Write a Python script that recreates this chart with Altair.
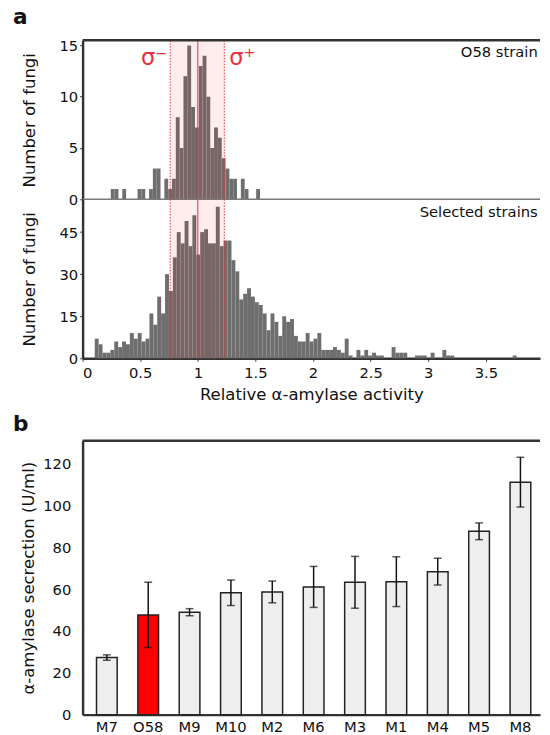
import altair as alt
import pandas as pd

# ---------------- data ----------------
O58_START = 0.2446
O58_WIDTH = 0.0332
o58_counts = [1, 1, 0, 1, 0, 0, 0, 1, 1, 0, 1, 3, 3, 0, 2, 1, 2, 8, 5, 12,
              15, 9, 7, 13, 14, 10, 5, 7, 6, 4, 3, 2, 2, 0, 2, 1, 0, 0, 1]

SEL_START = 0.1054
SEL_WIDTH = 0.0339
sel_counts = [7, 5, 2, 2, 3, 6, 4, 6, 5, 9, 7, 9, 6, 7, 16, 12, 22, 16, 30, 24,
              36, 45, 41, 49, 40, 51, 37, 45, 46, 41, 41, 54, 40, 42, 42, 35, 31, 21, 23, 25,
              22, 20, 19, 16, 10, 16, 13, 8, 15, 13, 14, 8, 6, 6, 9, 6, 7, 9, 3, 3,
              3, 4, 3, 2, 7, 1, 0, 3, 1, 3, 1, 2, 1, 1, 0, 0, 4, 2, 2, 2,
              0, 0, 1, 1, 1, 0, 2, 0, 0, 3, 1, 1, 0, 0, 0, 0, 0, 0, 0, 0,
              0, 0, 0, 0, 0, 0, 0, 1]

SIGMA_LO = 0.76
SIGMA_MID = 1.0
SIGMA_HI = 1.23

X_MAX = 3.97
O58_YMAX = 15.5
SEL_YMAX = 56.7
x_ticks = [0, 0.5, 1, 1.5, 2, 2.5, 3, 3.5]
o58_ticks = [0, 5, 10, 15]
sel_ticks = [0, 15, 30, 45]

strains = ["M7", "O58", "M9", "M10", "M2", "M6", "M3", "M1", "M4", "M5", "M8"]
secretion = [27.3, 47.7, 49.0, 58.3, 58.7, 61.1, 63.3, 63.6, 68.4, 87.7, 111.2]
errors = [1.3, 15.6, 1.7, 6.1, 5.2, 9.8, 12.4, 11.9, 6.4, 4.0, 11.9]
B_YMAX = 131
b_ticks = [0, 20, 40, 60, 80, 100, 120]

FONT = "DejaVu Sans"
GREY = "#6e6e6e"
RED = "#e3323b"
FRAME = "#333333"
PLOT_W = 466


def hist_df(start, width, counts):
    rows = []
    for i, c in enumerate(counts):
        x0 = start + i * width
        rows.append({"x0": x0, "x1": x0 + width, "count": c})
    return pd.DataFrame(rows)


o58_df = hist_df(O58_START, O58_WIDTH, o58_counts)
sel_df = hist_df(SEL_START, SEL_WIDTH, sel_counts)
band_df = pd.DataFrame({"lo": [SIGMA_LO], "hi": [SIGMA_HI]})
dotted_df = pd.DataFrame({"x": [SIGMA_LO, SIGMA_HI]})
mid_df = pd.DataFrame({"x": [SIGMA_MID]})
one_df = pd.DataFrame({"k": [0]})

xscale = alt.Scale(domain=[0, X_MAX], nice=False, zero=False)


def hist_panel(df, ymax, yticks, label, label_y, with_xaxis, with_sigma, title=None):
    yscale = alt.Scale(domain=[0, ymax], nice=False)
    yaxis = alt.Axis(values=yticks, title="Number of fungi", grid=False,
                     tickSize=3, labelPadding=2, titlePadding=21)
    if with_xaxis:
        xaxis = alt.Axis(values=x_ticks, format="~g", title="Relative α-amylase activity",
                         grid=False, tickSize=3, labelPadding=5, titlePadding=6)
    else:
        xaxis = None
    bars = alt.Chart(df).mark_rect(color=GREY, strokeWidth=0).encode(
        x=alt.X("x0:Q", scale=xscale, axis=xaxis),
        x2="x1:Q",
        y=alt.Y("count:Q", scale=yscale, axis=yaxis),
        y2=alt.datum(0),
    )
    band = alt.Chart(band_df).mark_rect(color="#ff0000", opacity=0.07).encode(
        x="lo:Q", x2="hi:Q", y=alt.datum(0), y2=alt.datum(ymax)
    )
    dotted = alt.Chart(dotted_df).mark_rule(color=RED, strokeWidth=1, strokeDash=[1.5, 1.5]).encode(
        x="x:Q"
    )
    mid = alt.Chart(mid_df).mark_rule(color=RED, strokeWidth=1).encode(x="x:Q")
    layers = [bars, band, dotted, mid]
    txt = alt.Chart(pd.DataFrame({"x": [X_MAX - 0.02], "y": [label_y], "t": [label]})).mark_text(
        align="right", baseline="middle", font=FONT, fontSize=15, color="#111111"
    ).encode(x="x:Q", y="y:Q", text="t:N")
    layers.append(txt)
    if with_sigma:
        sig_df = pd.DataFrame({"x": [SIGMA_LO, SIGMA_HI], "t": ["σ⁻", "σ⁺"],
                               "y": [13.1, 13.1], "side": ["l", "r"]})
        sig_l = alt.Chart(sig_df[sig_df.side == "l"]).mark_text(
            align="right", baseline="alphabetic", font=FONT, fontSize=23, color=RED, dx=-3
        ).encode(x="x:Q", y="y:Q", text="t:N")
        sig_r = alt.Chart(sig_df[sig_df.side == "r"]).mark_text(
            align="left", baseline="alphabetic", font=FONT, fontSize=23, color=RED, dx=5
        ).encode(x="x:Q", y="y:Q", text="t:N")
        top = alt.Chart(one_df).mark_rule(color=FRAME, strokeWidth=2.5).encode(y=alt.datum(ymax))
        sep = alt.Chart(one_df).mark_rule(color="#7a7a7a", strokeWidth=1.5).encode(y=alt.datum(0))
        layers += [sig_l, sig_r, top, sep]
    ch = alt.layer(*layers).properties(width=PLOT_W, height=162)
    if title is not None:
        ch = ch.properties(title=title)
    return ch


title_a = alt.TitleParams("a", anchor="start", frame="group", dx=-71, fontSize=22,
                          fontWeight="bold", font=FONT, color="#111111", offset=10)
title_b = alt.TitleParams("b", anchor="start", frame="group", dx=-71, fontSize=22,
                          fontWeight="bold", font=FONT, color="#111111", offset=4)

o58 = hist_panel(o58_df, O58_YMAX, o58_ticks, "O58 strain", 14.3, False, True, title_a)
sel = hist_panel(sel_df, SEL_YMAX, sel_ticks, "Selected strains", 52.0, True, False)

panel_a = alt.vconcat(o58, sel, spacing=0, bounds="flush")

# ---------------- panel b ----------------
b_df = pd.DataFrame({
    "strain": strains,
    "value": secretion,
    "lo": [v - e for v, e in zip(secretion, errors)],
    "hi": [v + e for v, e in zip(secretion, errors)],
    "kind": ["red" if s == "O58" else "hatch" for s in strains],
})

bx = alt.X("strain:N", sort=strains,
           scale=alt.Scale(paddingInner=0.5, paddingOuter=0.28, align=0.6),
           axis=alt.Axis(title=None, labelAngle=0, ticks=False, labelPadding=5, grid=False))
bars_b = alt.Chart(b_df).mark_bar(stroke="#222222", strokeWidth=1.5).encode(
    x=bx,
    y=alt.Y("value:Q", scale=alt.Scale(domain=[0, B_YMAX], nice=False),
            axis=alt.Axis(values=b_ticks, title="α-amylase secrection (U/ml)", grid=False,
                          ticks=False, labelPadding=12, titlePadding=5)),
    fill=alt.Fill("kind:N", scale=alt.Scale(domain=["hatch", "red"], range=["#eeeeee", "#ff0000"]),
                  legend=None),
)
err_b = alt.Chart(b_df).mark_rule(color="#111111", strokeWidth=1.5).encode(
    x=alt.X("strain:N", sort=strains), y="lo:Q", y2="hi:Q"
)
cap_lo = alt.Chart(b_df).mark_tick(color="#111111", thickness=1.5, size=8).encode(
    x=alt.X("strain:N", sort=strains), y="lo:Q"
)
cap_hi = alt.Chart(b_df).mark_tick(color="#111111", thickness=1.5, size=8).encode(
    x=alt.X("strain:N", sort=strains), y="hi:Q"
)
top_b = alt.Chart(one_df).mark_rule(color=FRAME, strokeWidth=2.5).encode(y=alt.datum(B_YMAX))
panel_b = alt.layer(bars_b, err_b, cap_lo, cap_hi, top_b).properties(
    width=PLOT_W, height=279, title=title_b
)

chart = alt.vconcat(panel_a, panel_b, spacing=8).properties(
    padding={"left": 4, "top": -10, "right": 0, "bottom": 0}
).configure_view(stroke="transparent").configure_axis(
    labelFont=FONT, titleFont=FONT, labelFontSize=15, titleFontSize=16.8,
    labelColor="#111111", titleColor="#111111", titleFontWeight="normal",
    domainColor=FRAME, domainWidth=2.5, tickColor=FRAME, tickWidth=1
).configure_title(font=FONT)

chart.save("out.html", embed_options={"renderer": "svg", "actions": False})
